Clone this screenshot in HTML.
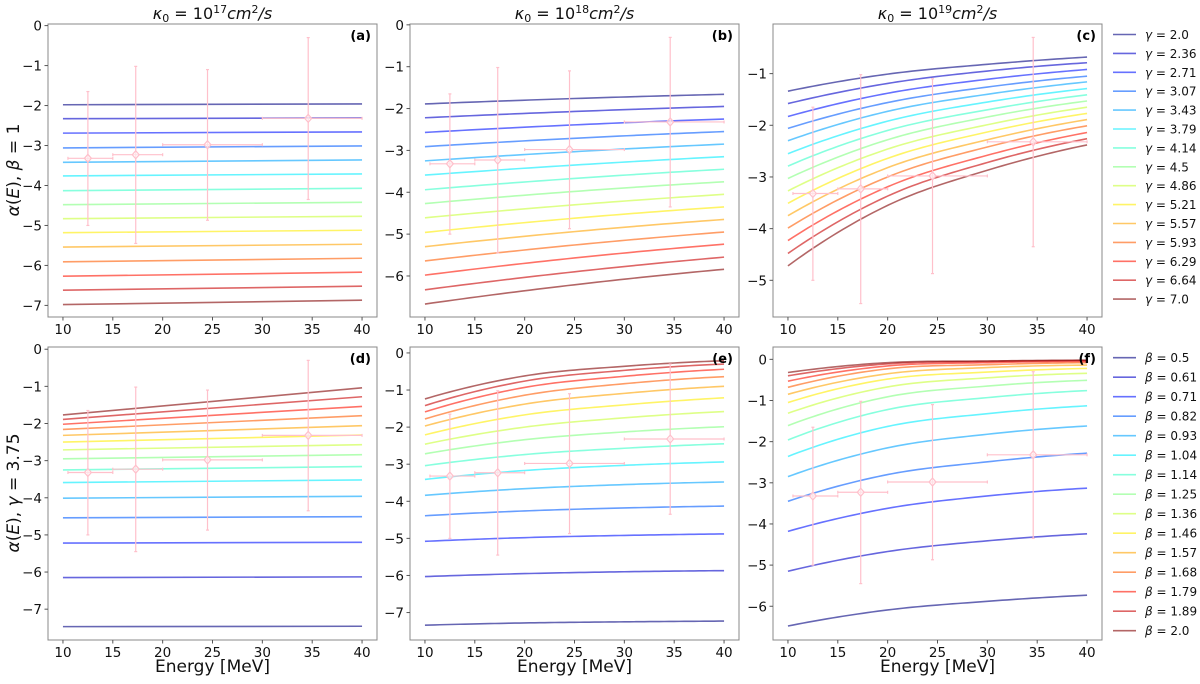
<!DOCTYPE html>
<html><head><meta charset="utf-8">
<style>
body{margin:0;background:#fff;}
svg text{font-family:"DejaVu Sans","Liberation Sans",sans-serif;}
</style></head>
<body>
<svg id="fig" width="1200" height="679" viewBox="0 0 1200 679" xmlns="http://www.w3.org/2000/svg"></svg>
<script>
// ---- data ----
const obsE = [12.5, 17.3, 24.5, 34.6];
const obsAlpha = [-3.32, -3.23, -2.98, -2.32];
const obsElo = [10.5, 15, 20, 30];
const obsEhi = [15, 20, 30, 40];
const obsAlo = [-5.0, -5.45, -4.87, -4.35];
const obsAhi = [-1.65, -1.02, -1.1, -0.3];

const gammaLabels = ["2.0","2.36","2.71","3.07","3.43","3.79","4.14","4.5","4.86","5.21","5.57","5.93","6.29","6.64","7.0"];
const betaLabels = ["0.5","0.61","0.71","0.82","0.93","1.04","1.14","1.25","1.36","1.46","1.57","1.68","1.79","1.89","2.0"];

const energiesA = [10, 40];
const curvesA = [[-1.98,-1.96],[-2.33,-2.31],[-2.69,-2.66],[-3.06,-3.01],[-3.42,-3.36],[-3.76,-3.71],[-4.13,-4.07],[-4.48,-4.42],[-4.83,-4.77],[-5.18,-5.12],[-5.54,-5.47],[-5.91,-5.82],[-6.27,-6.17],[-6.62,-6.52],[-6.98,-6.87]];

const energiesB = [10, 25, 40];
const curvesB = [[-1.89,-1.76,-1.66],[-2.22,-2.07,-1.95],[-2.57,-2.39,-2.25],[-2.91,-2.71,-2.55],[-3.25,-3.03,-2.85],[-3.59,-3.35,-3.15],[-3.94,-3.67,-3.45],[-4.27,-3.98,-3.75],[-4.61,-4.30,-4.05],[-4.96,-4.62,-4.35],[-5.30,-4.94,-4.65],[-5.64,-5.26,-4.95],[-5.98,-5.57,-5.24],[-6.33,-5.90,-5.55],[-6.67,-6.21,-5.84]];

const energiesC = [10, 20, 30, 40];
const curvesC = [[-1.34,-1.01,-0.82,-0.68],[-1.58,-1.19,-0.95,-0.79],[-1.83,-1.38,-1.11,-0.92],[-2.06,-1.56,-1.26,-1.05],[-2.30,-1.73,-1.40,-1.16],[-2.55,-1.92,-1.55,-1.29],[-2.79,-2.10,-1.70,-1.41],[-3.03,-2.28,-1.84,-1.53],[-3.27,-2.46,-1.99,-1.65],[-3.51,-2.64,-2.13,-1.77],[-3.75,-2.82,-2.28,-1.89],[-3.99,-3.00,-2.42,-2.01],[-4.23,-3.19,-2.58,-2.14],[-4.48,-3.37,-2.72,-2.26],[-4.72,-3.55,-2.87,-2.38]];

const energiesD = [10, 40];
const curvesD = [[-7.47,-7.46],[-6.15,-6.13],[-5.22,-5.20],[-4.54,-4.51],[-4.01,-3.96],[-3.59,-3.52],[-3.25,-3.16],[-2.95,-2.84],[-2.71,-2.57],[-2.50,-2.31],[-2.32,-2.06],[-2.16,-1.79],[-2.02,-1.54],[-1.89,-1.28],[-1.77,-1.04]];

const energiesE = [10, 20, 30, 40];
const curvesE = [[-7.34,-7.28,-7.25,-7.23],[-6.03,-5.95,-5.90,-5.87],[-5.08,-4.98,-4.92,-4.88],[-4.39,-4.26,-4.18,-4.13],[-3.84,-3.66,-3.55,-3.48],[-3.41,-3.17,-3.03,-2.94],[-3.04,-2.74,-2.57,-2.45],[-2.72,-2.34,-2.13,-1.99],[-2.46,-2.00,-1.75,-1.58],[-2.21,-1.67,-1.40,-1.21],[-1.97,-1.38,-1.09,-0.90],[-1.78,-1.14,-0.83,-0.64],[-1.59,-0.93,-0.63,-0.44],[-1.42,-0.76,-0.47,-0.30],[-1.24,-0.62,-0.36,-0.21]];

const energiesF = [10, 20, 30, 40];
const curvesF = [[-6.48,-6.09,-5.88,-5.73],[-5.15,-4.67,-4.41,-4.24],[-4.18,-3.62,-3.32,-3.13],[-3.45,-2.80,-2.49,-2.28],[-2.85,-2.15,-1.82,-1.62],[-2.36,-1.63,-1.32,-1.13],[-1.96,-1.22,-0.93,-0.76],[-1.61,-0.91,-0.65,-0.51],[-1.31,-0.67,-0.45,-0.34],[-1.05,-0.48,-0.31,-0.22],[-0.85,-0.35,-0.20,-0.14],[-0.68,-0.23,-0.13,-0.08],[-0.53,-0.16,-0.08,-0.05],[-0.40,-0.11,-0.05,-0.03],[-0.32,-0.08,-0.04,-0.02]];

const xTicks = [10, 15, 20, 25, 30, 35, 40];
const yTicksA = [0,-1,-2,-3,-4,-5,-6,-7];
const yTicksB = [0,-1,-2,-3,-4,-5,-6];
const yTicksC = [-1,-2,-3,-4,-5];
const yTicksF = [0,-1,-2,-3,-4,-5,-6];

// ---- layout ----
const NS = "http://www.w3.org/2000/svg";
const svg = document.getElementById('fig');
function mk(tag, attrs, parent){ const e=document.createElementNS(NS,tag); for(const k in attrs) e.setAttribute(k,attrs[k]); (parent||svg).appendChild(e); return e; }

function jet(t){
  const c = v => Math.max(0, Math.min(1, v));
  const r = c(1.5 - Math.abs(4*t - 3)), g = c(1.5 - Math.abs(4*t - 2)), b = c(1.5 - Math.abs(4*t - 1));
  return `rgb(${Math.round(r*255)},${Math.round(g*255)},${Math.round(b*255)})`;
}

function smoothPath(xs, ys, sx, sy){
  const n = xs.length;
  if(n === 2) return `M${sx(xs[0])},${sy(ys[0])}L${sx(xs[1])},${sy(ys[1])}`;
  const d = [], h = [], m = [];
  for(let i=0;i<n-1;i++){ h.push(xs[i+1]-xs[i]); d.push((ys[i+1]-ys[i])/h[i]); }
  m.push(((2*h[0]+h[1])*d[0] - h[0]*d[1])/(h[0]+h[1]));
  for(let i=1;i<n-1;i++) m.push((h[i]*d[i-1] + h[i-1]*d[i])/(h[i-1]+h[i]));
  const k = n-2;
  m.push(((2*h[k]+h[k-1])*d[k] - h[k]*d[k-1])/(h[k]+h[k-1]));
  let p = `M${sx(xs[0])},${sy(ys[0])}`;
  for(let i=0;i<n-1;i++){
    for(let s=1;s<=20;s++){
      const t=s/20, h00=2*t*t*t-3*t*t+1, h10=t*t*t-2*t*t+t, h01=-2*t*t*t+3*t*t, h11=t*t*t-t*t;
      const y = h00*ys[i]+h10*h[i]*m[i]+h01*ys[i+1]+h11*h[i]*m[i+1];
      p += `L${sx(xs[i]+t*h[i]).toFixed(2)},${sy(y).toFixed(2)}`;
    }
  }
  return p;
}

const panels = [
  {id:'a', x0:48, y0:24, ymin:-7.29, ymax:0.04, E:energiesA, C:curvesA, yt:yTicksA, row:0},
  {id:'b', x0:410, y0:24, ymin:-6.98, ymax:0.02, E:energiesB, C:curvesB, yt:yTicksB, row:0},
  {id:'c', x0:773, y0:24, ymin:-5.71, ymax:-0.04, E:energiesC, C:curvesC, yt:yTicksC, row:0},
  {id:'d', x0:48, y0:347, ymin:-7.83, ymax:0.06, E:energiesD, C:curvesD, yt:yTicksA, row:1},
  {id:'e', x0:410, y0:347, ymin:-7.74, ymax:0.16, E:energiesE, C:curvesE, yt:yTicksA, row:1},
  {id:'f', x0:773, y0:347, ymin:-6.82, ymax:0.30, E:energiesF, C:curvesF, yt:yTicksF, row:1},
];
const W = 329, H = 293, XMIN = 8.5, XMAX = 41.5;

panels.forEach(P => {
  const g = mk('g', {});
  
  
  const sx = v => P.x0 + (v - XMIN) / (XMAX - XMIN) * W;
  const sy = v => P.y0 + (P.ymax - v) / (P.ymax - P.ymin) * H;

  P.C.forEach((ys, i) => {
    const path = mk('path', {d: smoothPath(P.E, ys, sx, sy), fill:'none', stroke: jet(i/14), 'stroke-opacity':0.6, 'stroke-width':1.6}, g);
    
    
  });

  obsE.forEach((e, i) => {
    const eg = mk('g', {stroke:'pink', 'stroke-width':1.2, fill:'none'}, g);
    
    
    mk('line', {x1:sx(obsElo[i]), x2:sx(obsEhi[i]), y1:sy(obsAlpha[i]), y2:sy(obsAlpha[i])}, eg);
    mk('line', {x1:sx(e), x2:sx(e), y1:sy(obsAlo[i]), y2:sy(obsAhi[i])}, eg);
    [obsElo[i], obsEhi[i]].forEach(v => mk('line', {x1:sx(v), x2:sx(v), y1:sy(obsAlpha[i])-1.5, y2:sy(obsAlpha[i])+1.5}, eg));
    [obsAlo[i], obsAhi[i]].forEach(v => mk('line', {x1:sx(e)-1.5, x2:sx(e)+1.5, y1:sy(v), y2:sy(v)}, eg));
    const cx = sx(e), cy = sy(obsAlpha[i]);
    mk('path', {d:`M${cx},${cy-4}L${cx+3.5},${cy}L${cx},${cy+4}L${cx-3.5},${cy}Z`, fill:'#fff', 'fill-opacity':0.5}, eg);
  });

  const fr = mk('rect', {x:P.x0, y:P.y0, width:W, height:H, fill:'none', stroke:'#888', 'stroke-width':1}, g);
  
  

  xTicks.forEach(t => {
    mk('line', {x1:sx(t), x2:sx(t), y1:P.y0+H, y2:P.y0+H+3.5, stroke:'#555'}, g);
    const tx = mk('text', {x:sx(t), y:P.y0+H+17, 'font-size':13.5, 'text-anchor':'middle', fill:'#111'}, g);
    tx.textContent = t;
    
    
  });
  P.yt.forEach(t => {
    mk('line', {x1:P.x0-3.5, x2:P.x0, y1:sy(t), y2:sy(t), stroke:'#555'}, g);
    const ty = mk('text', {x:P.x0-6, y:sy(t)+5, 'font-size':13.5, 'text-anchor':'end', fill:'#111'}, g);
    ty.textContent = t === 0 ? '0' : '\u2212' + Math.abs(t);
    
    
  });
  const pl = mk('text', {x:P.x0+W-6, y:P.y0+16, 'font-size':13, 'font-weight':'bold', 'text-anchor':'end', fill:'#000'}, g);
  pl.textContent = '(' + P.id + ')';
  
  

  if(P.row === 1){
    const xl = mk('text', {x:P.x0+W/2, y:672, 'font-size':17, 'text-anchor':'middle', fill:'#111'}, g);
    xl.textContent = 'Energy [MeV]';
    
    
  }
});

const kexp = ['17','18','19'];
[48, 410, 773].forEach((x0, i) => {
  const t = mk('text', {x:x0+W/2, y:19, 'font-size':16, 'text-anchor':'middle', fill:'#111'});
  t.innerHTML = `<tspan font-style="italic">κ</tspan><tspan font-size="11" dy="3">0</tspan><tspan dy="-3"> = 10</tspan><tspan font-size="11" dy="-6">${kexp[i]}</tspan><tspan dy="6" font-style="italic">cm</tspan><tspan font-size="11" dy="-6">2</tspan><tspan dy="6" font-style="italic">/s</tspan>`;
  
  
});

[[170, 'β', '1'], [493, 'γ', '3.75']].forEach(([cy, sym, val]) => {
  const t = mk('text', {x:0, y:0, 'font-size':17, 'text-anchor':'middle', fill:'#111', transform:`translate(19,${cy}) rotate(-90)`});
  t.innerHTML = `<tspan font-style="italic">α</tspan>(<tspan font-style="italic">E</tspan>), <tspan font-style="italic">${sym}</tspan> = ${val}`;
  
  
});

[[gammaLabels, 'γ', 34.5, 18.9], [betaLabels, 'β', 357.7, 19.5]].forEach(([labels, sym, top, step], li) => {
  const lg = mk('g', {});
  
  
  labels.forEach((lab, i) => {
    const y = top + i*step;
    const row = mk('g', {}, lg);
    
    
    mk('line', {x1:1113, x2:1136, y1:y, y2:y, stroke:jet(i/14), 'stroke-opacity':0.6, 'stroke-width':1.6}, row);
    const t = mk('text', {x:1145, y:y+4.5, 'font-size':12, fill:'#111'}, row);
    t.innerHTML = `<tspan font-style="italic">${sym}</tspan> = ${lab}`;
  });
});
</script>
</body></html>
